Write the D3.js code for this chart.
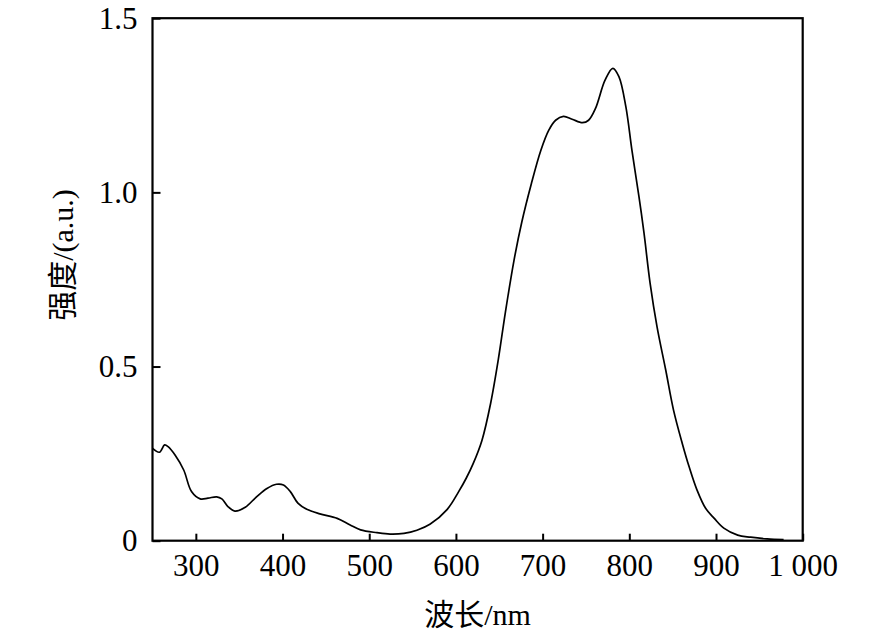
<!DOCTYPE html>
<html>
<head>
<meta charset="utf-8">
<script src="https://cdn.jsdelivr.net/npm/d3@7"></script>
<style>
  html, body { margin: 0; padding: 0; background: #fff; }
</style>
</head>
<body>
<svg id="chart" width="886" height="637"></svg>
<script>
// spectrum
const wavelength = [250, 258, 264, 268, 276, 286, 295, 305, 314, 324, 330, 337, 345, 357, 370, 382, 393, 401, 409, 418,
  428, 443, 463, 478, 490, 509, 524, 540, 555, 570, 590, 603, 612, 620, 630, 640, 649, 657, 667, 676, 687,
  698, 707, 715, 724, 734, 746, 753, 761, 772, 781, 788, 796, 803, 811, 817, 824, 832, 842, 851, 861,
  869, 878, 888, 898, 909, 925, 940, 959, 978];
const intensity = [0.265, 0.254, 0.275, 0.27, 0.246, 0.203, 0.141, 0.12, 0.122, 0.126, 0.12, 0.098, 0.085, 0.096, 0.126, 0.15, 0.162, 0.16, 0.141, 0.107,
  0.09, 0.077, 0.064, 0.045, 0.031, 0.023, 0.019, 0.021, 0.03, 0.047, 0.09, 0.14, 0.18, 0.222, 0.288, 0.394, 0.522, 0.655, 0.805, 0.915, 1.025,
  1.121, 1.178, 1.207, 1.218, 1.21, 1.2, 1.207, 1.241, 1.322, 1.356, 1.332, 1.246, 1.121, 0.99, 0.882, 0.739, 0.614, 0.49, 0.375, 0.28,
  0.212, 0.146, 0.093, 0.064, 0.036, 0.016, 0.01, 0.005, 0.003];
const xTicks = [300, 400, 500, 600, 700, 800, 900, 1000];
const xTickLabels = ["300", "400", "500", "600", "700", "800", "900", "1 000"];
const yTicks = [0, 0.5, 1.0, 1.5];
const yTickLabels = ["0", "0.5", "1.0", "1.5"];

const FONT = "'Liberation Serif', 'Noto Sans CJK SC', serif";

const svg = d3.select("#chart");
const m = { left: 152.5, right: 886 - 802.7, top: 18.2, bottom: 637 - 540.7 };
const W = 886 - m.left - m.right, H = 637 - m.top - m.bottom;

const x = d3.scaleLinear().domain([250, 1000]).range([0, W]);
const y = d3.scaleLinear().domain([0, 1.5]).range([H, 0]);

const g = svg.append("g").attr("transform", `translate(${m.left},${m.top})`);

// curve
const line = d3.line().x(d => x(d[0])).y(d => y(d[1])).curve(d3.curveCatmullRom.alpha(0.5));
g.append("path")
  .datum(d3.zip(wavelength, intensity))
  .attr("d", line)
  .attr("fill", "none")
  .attr("stroke", "#000")
  .attr("stroke-width", 1.7);

// inward ticks
const xAxis = d3.axisBottom(x).tickValues(xTicks).tickSizeInner(-7).tickSizeOuter(0)
  .tickFormat((d, i) => xTickLabels[i]).tickPadding(16);
const gx = g.append("g").attr("transform", `translate(0,${H})`).call(xAxis);
const yAxis = d3.axisLeft(y).tickValues(yTicks).tickSizeInner(-8).tickSizeOuter(0)
  .tickFormat((d, i) => yTickLabels[i]).tickPadding(15);
const gy = g.append("g").call(yAxis);

[gx, gy].forEach(a => {
  a.attr("font-family", FONT).attr("font-size", 31);
  a.select(".domain").remove();
  a.selectAll(".tick line").attr("stroke", "#000").attr("stroke-width", 2);
  a.selectAll(".tick text").attr("fill", "#000");
});
gx.selectAll(".tick text").attr("dy", "0.62em");
gy.selectAll(".tick text").attr("dy", "0.33em");

// frame
g.append("rect")
  .attr("width", W).attr("height", H)
  .attr("fill", "none").attr("stroke", "#000").attr("stroke-width", 2.2);

// axis titles
svg.append("text")
  .attr("x", m.left + W / 2).attr("y", 625)
  .attr("text-anchor", "middle").attr("font-size", 30).attr("font-family", FONT)
  .text("波长/nm");

svg.append("text")
  .attr("transform", `translate(73,255) rotate(-90)`)
  .attr("text-anchor", "middle").attr("font-size", 30).attr("font-family", FONT)
  .text("强度/(a.u.)");
</script>
</body>
</html>
